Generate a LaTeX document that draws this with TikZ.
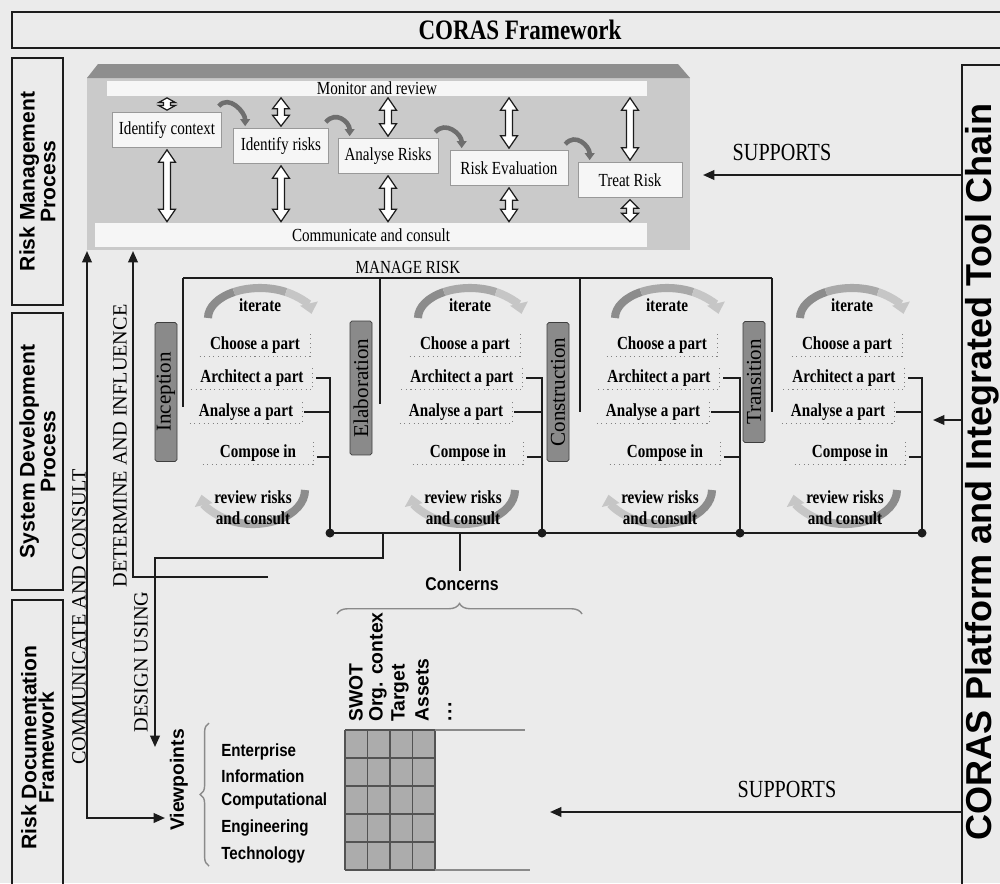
\documentclass[tikz,border=0pt]{standalone}
\usepackage{fontspec}
\setmainfont{Liberation Serif}
\setsansfont{Liberation Sans}
\newfontfamily\narrowserif{Liberation Serif}[FakeStretch=0.82]
\newfontfamily\narrowsans{Liberation Sans}[FakeStretch=0.86]
\usepackage{tikz}
\usetikzlibrary{arrows.meta,positioning,calc,decorations.pathreplacing}
\definecolor{ink}{HTML}{1C1C1C}
\definecolor{paper}{HTML}{EBEBEB}
\definecolor{procgrey}{HTML}{CACACA}
\definecolor{bevelgrey}{HTML}{8E8E8E}
\definecolor{barwhite}{HTML}{F6F6F6}
\definecolor{phasegrey}{HTML}{8A8A8A}
\definecolor{hookgrey}{HTML}{6E6E6E}
\definecolor{arcdark}{HTML}{8C8C8C}
\definecolor{arcmid}{HTML}{A9A9A9}
\definecolor{arclight}{HTML}{C6C6C6}
\definecolor{cellgrey}{HTML}{ACACAC}
\definecolor{rulegrey}{HTML}{8A8A8A}

% hollow double arrow, top point first
\newcommand\updown[2]{%
  \draw[ink,fill=white,line width=0.7pt] let \p1=#1, \p2=#2,
    \n1={min(7pt,(\y1-\y2)/2.6)} in
    (\x1,\y1) -- (\x1+4.8pt,\y1-\n1) -- (\x1+2pt,\y1-\n1) -- (\x1+2pt,\y2+\n1)
    -- (\x1+4.8pt,\y2+\n1) -- (\x1,\y2) -- (\x1-4.8pt,\y2+\n1) -- (\x1-2pt,\y2+\n1)
    -- (\x1-2pt,\y1-\n1) -- (\x1-4.8pt,\y1-\n1) -- cycle;}

\begin{document}
\begin{tikzpicture}[x=0.02cm,y=-0.02cm,>={Triangle[length=6.5pt,width=5.5pt]},
  wire/.style={draw=ink,line width=1.1pt},
  lane/.style={draw=ink,line width=1.3pt,rotate=90,align=center,inner sep=0pt,
    minimum height=10.2mm,font=\sffamily\bfseries\fontsize{12}{10}\selectfont},
  stepbox/.style={draw=gray!80,fill=barwhite,inner sep=0pt,minimum height=7mm,
    font=\narrowserif\fontsize{10.5}{12}\selectfont},
  rmpbar/.style={fill=barwhite,inner sep=0pt,font=\narrowserif\fontsize{10.5}{12}\selectfont},
  phasebar/.style={draw=ink!85,fill=phasegrey,rotate=90,rounded corners=1pt,inner xsep=2pt,
    inner ysep=0pt,minimum height=4.4mm,font=\fontsize{12}{12}\selectfont},
  partbox/.style={inner xsep=5pt,inner ysep=1.5pt,minimum width=22mm,
    font=\narrowserif\bfseries\fontsize{10.5}{12}\selectfont},
  cycletext/.style={inner sep=1pt,align=center,font=\narrowserif\bfseries\fontsize{10.5}{11.8}\selectfont},
  cyclearc/.style={line width=4.6pt},
  hookline/.style={draw=hookgrey,line width=2.6pt,-{Triangle[length=4pt,width=5.5pt]}},
  vlabel/.style={rotate=90,inner sep=0pt,font=\fontsize{11.5}{12}\selectfont},
  supp/.style={font=\narrowserif\fontsize{14}{14}\selectfont},
  colhead/.style={rotate=90,anchor=west,inner sep=0pt,font=\sffamily\bfseries\fontsize{11}{12}\selectfont},
  vpitem/.style={anchor=west,inner sep=0pt,font=\narrowsans\bfseries\fontsize{10}{12}\selectfont}]
  \useasboundingbox (0,0) rectangle (1000,883);
  \fill[paper] (0,0) rectangle (1000,883);

  % frame title and side lanes
  \draw[ink,line width=1.3pt] (1000,12) -| (12,48) -- (1000,48);
  \node[font=\narrowserif\bfseries\fontsize{16}{16}\selectfont] (title) at (520,30) {CORAS Framework};
  \node[lane,minimum width=49.4mm] (rmp) at (37.5,181.5) {Risk Management\\Process};
  \node[lane,minimum width=55.4mm] (sdp) at (37.5,451.5) {System Development\\Process};
  \node[lane,minimum width=59mm] (rdf) at (37.5,747.5) {Risk Documentation\\Framework};
  \draw[ink,line width=1.3pt] (1000,65) -| (962,890);
  \node[rotate=90,font=\sffamily\bfseries\fontsize{20.5}{21}\selectfont] (platform) at (982,472)
    {CORAS Platform and Integrated Tool Chain};

  % risk management process
  \fill[procgrey] (87,77) rectangle (690,250);
  \fill[bevelgrey] (87,78) -- (98,64) -- (678,64) -- (690,78) -- cycle;
  \node[rmpbar,minimum width=108mm,minimum height=3mm] (monitor) at (377,88) {Monitor and review};
  \node[rmpbar,minimum width=110.4mm,minimum height=4.8mm] (comm) at (371,235) {Communicate and consult};
  \foreach \b/\x/\y/\w/\t in {ic/167/130/109/Identify context,ir/281/146/95/Identify risks,
      ar/388/156/100/Analyse Risks,re/509/168/118/Risk Evaluation,tr/630/180/104/Treat Risk}
    \node[stepbox,minimum width=\w*0.2mm] (\b) at (\x,\y) {\t};
  \foreach \b in {ic,ir,ar,re,tr}{
    \updown{($(monitor.south -| \b.north)+(0,2)$)}{($(\b.north)+(0,-2)$)}
    \updown{($(\b.south)+(0,2)$)}{($(comm.north -| \b.south)+(0,-1)$)}
  }
  \foreach \a/\b in {ic/ir,ir/ar,ar/re,re/tr}
    \draw[hookline] ($(\a.north east)+(-3,-6)$) .. controls +(10,-12) and +(0,-14) .. ($(\b.north west)+(12,-2)$);

  % manage risk bracket
  \node[font=\narrowserif\fontsize{10.5}{12}\selectfont] (manage) at (408,267) {MANAGE RISK};
  \draw[wire] (183,278) -- (772,278);
  \foreach \x/\e in {183/407,380/404,580/412,772/412}
    \draw[wire] (\x,278) -- (\x,\e);

  % phases
  \foreach \b/\t/\x/\y/\l in {inception/Inception/166/392/139,elaboration/Elaboration/361/388/134,
      construction/Construction/558/392/139,transition/Transition/754/382/121}
    \node[phasebar,minimum width=\l*0.2mm] (\b) at (\x,\y) {\t};

  \foreach \i/\c/\k in {1/255/330,2/465/542,3/662/740,4/847/922}{
    % iterate and review cycles
    \draw[cyclearc,arcdark] ([shift={(\c+5,318)}]180:52 and 30) arc[start angle=180,end angle=240,x radius=52,y radius=30];
    \draw[cyclearc,arcmid] ([shift={(\c+5,318)}]240:52 and 30) arc[start angle=240,end angle=300,x radius=52,y radius=30];
    \draw[cyclearc,arclight,-{Triangle[length=6pt,width=10pt]}] ([shift={(\c+5,318)}]300:52 and 30) arc[start angle=300,end angle=352,x radius=52,y radius=30];
    \draw[cyclearc,arcdark] ([shift={(\c-2,490)}]0:52 and 34) arc[start angle=0,end angle=60,x radius=52,y radius=34];
    \draw[cyclearc,arcmid] ([shift={(\c-2,490)}]60:52 and 34) arc[start angle=60,end angle=120,x radius=52,y radius=34];
    \draw[cyclearc,arclight,-{Triangle[length=6pt,width=10pt]}] ([shift={(\c-2,490)}]120:52 and 34) arc[start angle=120,end angle=172,x radius=52,y radius=34];
    \node[cycletext] (iter\i) at (\c+5,305) {iterate};
    \node[partbox] (choose\i) at (\c,345) {Choose a part};
    \node[partbox] (arch\i) at (\c-3,378) {Architect a part};
    \node[partbox] (anal\i) at (\c-9,412) {Analyse a part};
    \node[partbox] (comp\i) at (\c+3,453) {Compose in};
    \node[cycletext] (rev\i) at (\c-2,508) {review risks\\and consult};
    \foreach \b in {choose,arch,anal,comp}
      \draw[gray,dotted,line width=0.6pt] (\b\i.south west) -- (\b\i.south east) -- (\b\i.north east);
    \coordinate (j\i) at (\k,533);
    \draw[wire] ([xshift=2pt]arch\i.east) -| (j\i);
    \draw[wire] ([xshift=1pt]anal\i.east) -| (j\i);
    \draw[wire] ([xshift=2pt,yshift=-2.5pt]comp\i.east) -| (j\i);
  }
  \draw[wire] (j1) -- (j4);
  \foreach \i in {1,...,4}
    \fill[ink] (j\i) circle (4.5);

  % links to the documentation framework
  \coordinate (dsplit) at (383,533);
  \coordinate (dbend) at (155,558);
  \coordinate (dtip) at (155,747);
  \draw[wire,->] (dsplit) |- (dbend) -- (dtip);
  \coordinate (ftop) at (133,251);
  \coordinate (fend) at (268,577);
  \draw[wire,->] (fend) -| (ftop);
  \coordinate (ctop) at (87,251);
  \coordinate (cend) at (165,818);
  \draw[wire,<->] (ctop) |- (cend);
  \node[vlabel] (communicate) at (79,617) {COMMUNICATE AND CONSULT};
  \node[vlabel] (determine) at (120,446) {DETERMINE AND INFLUENCE};
  \node[vlabel] (design) at (141,662) {DESIGN USING};

  % concerns
  \coordinate (cstem) at (460,533);
  \node[font=\narrowsans\bfseries\fontsize{10.5}{12}\selectfont] (concerns) at (462,584) {Concerns};
  \draw[wire] (cstem) -- (cstem |- concerns.north);
  \draw[rulegrey,line width=0.8pt,decorate,decoration={brace,amplitude=6pt}] (337,614) -- (582,614);

  % viewpoints and concerns grid
  \node[rotate=90,font=\sffamily\bfseries\fontsize{11}{12}\selectfont] (viewpoints) at (179,780) {Viewpoints};
  \draw[rulegrey,line width=0.8pt,decorate,decoration={brace,amplitude=5pt}] (209,866) -- (209,723);
  \foreach \t/\y [count=\k] in {Enterprise/752,Information/776,Computational/801,Engineering/828,Technology/855}
    \node[vpitem] (vp\k) at (221,\y) {\t};
  \fill[cellgrey] (345,730) rectangle (435,870);
  \foreach \x in {345,367.5,390,412.5,435}
    \draw[rulegrey!60!black,line width=0.7pt] (\x,730) -- (\x,870);
  \foreach \y in {730,758,786,814,842,870}
    \draw[rulegrey!60!black,line width=0.7pt] (345,\y) -- (435,\y);
  \draw[rulegrey,line width=0.8pt] (435,730) -- (525,730);
  \draw[rulegrey,line width=0.8pt] (435,870) -- (530,870);
  \foreach \t/\x [count=\k] in {SWOT/356,Org. contex/378,Target/400,Assets/422}
    \node[colhead] (head\k) at (\x,722) {\t};
  \node[colhead] (head5) at (450,722) {.\kern1pt.\kern1pt.};

  % tool support
  \coordinate (supa) at (962,175);
  \coordinate (supatip) at (703,175);
  \draw[wire,->] (supa) -- (supatip);
  \node[supp] (suplabel1) at (782,152) {SUPPORTS};
  \coordinate (supb) at (962,420);
  \coordinate (supbtip) at (933,420);
  \draw[wire,->] (supb) -- (supbtip);
  \coordinate (supc) at (962,812);
  \coordinate (supctip) at (550,812);
  \draw[wire,->] (supc) -- (supctip);
  \node[supp] (suplabel2) at (787,789) {SUPPORTS};
\end{tikzpicture}
\end{document}
